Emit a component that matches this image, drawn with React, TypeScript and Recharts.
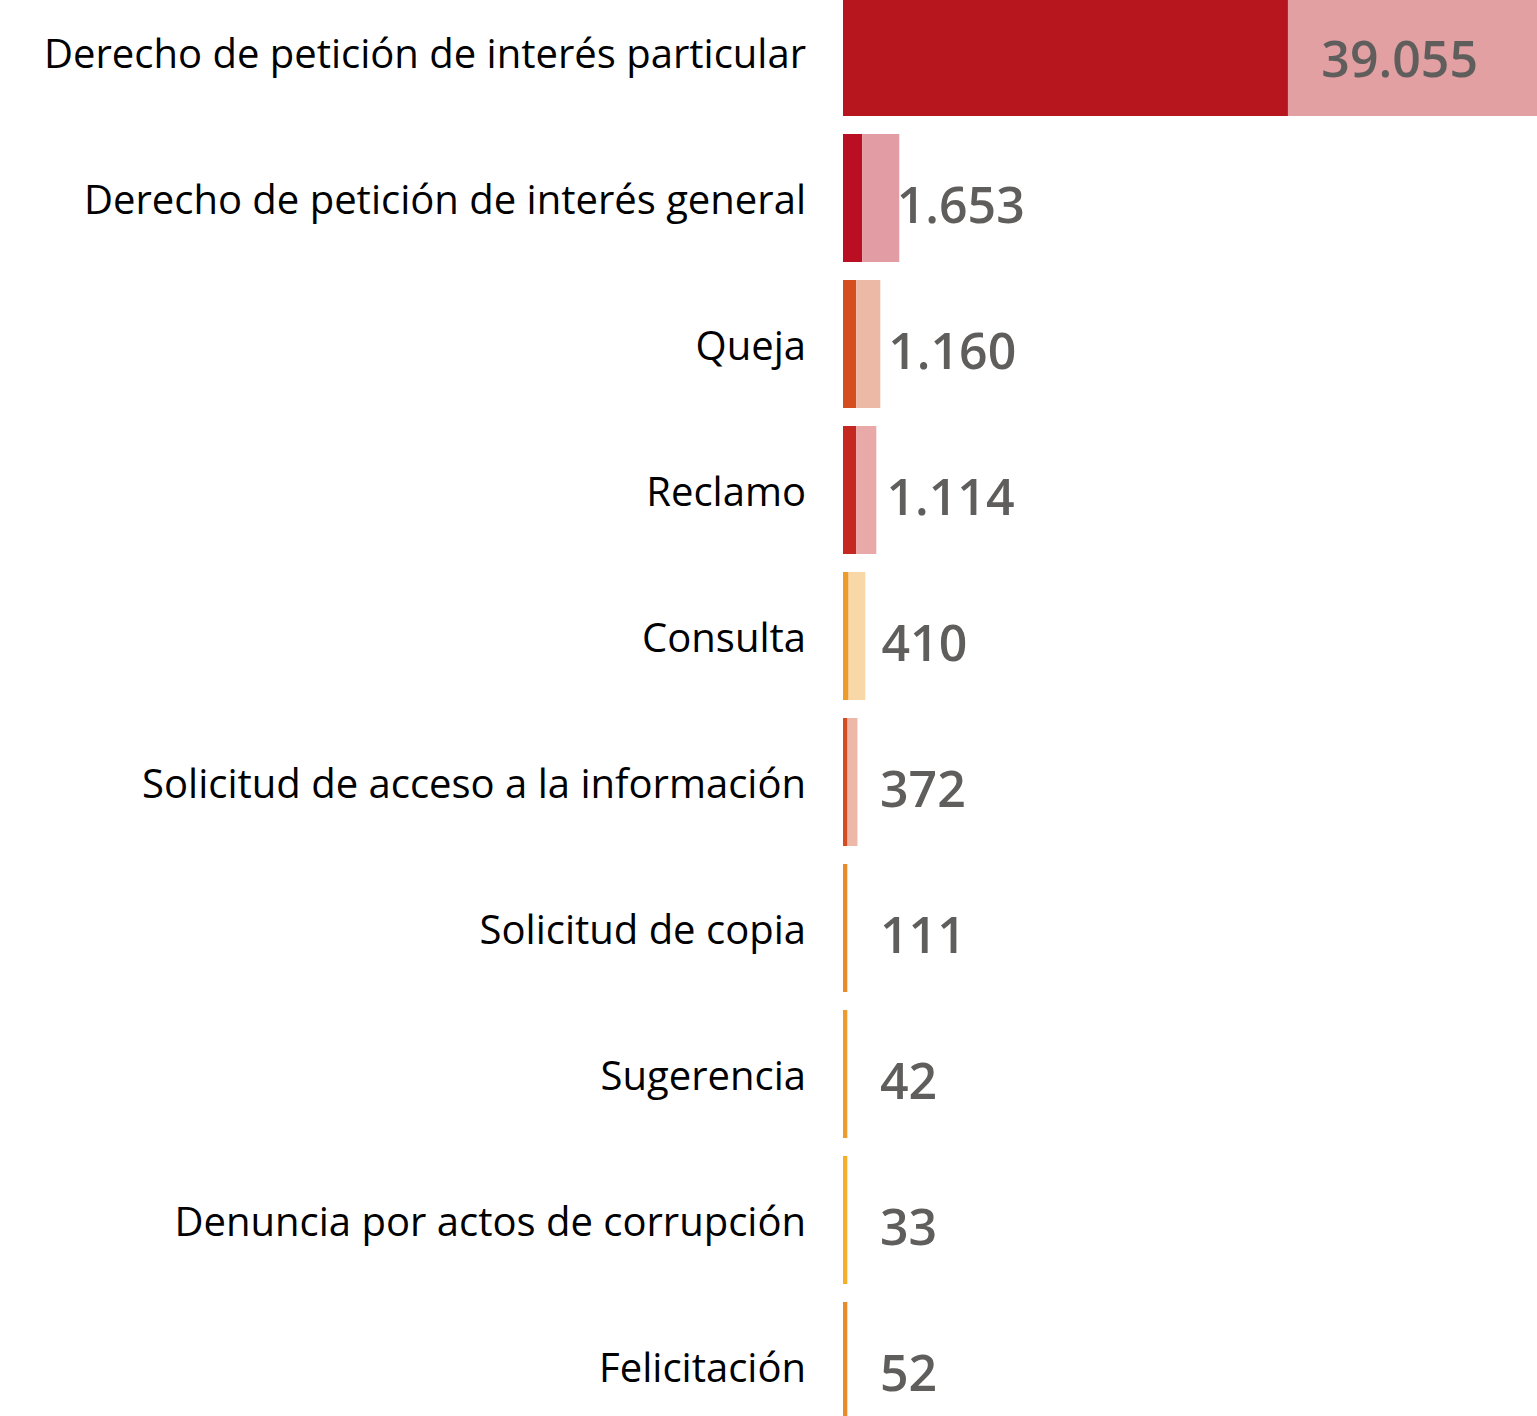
import React from 'react';
import { BarChart, Bar, XAxis, YAxis, Cell, LabelList } from 'recharts';

const categories = [
  'Derecho de petición de interés particular',
  'Derecho de petición de interés general',
  'Queja',
  'Reclamo',
  'Consulta',
  'Solicitud de acceso a la información',
  'Solicitud de copia',
  'Sugerencia',
  'Denuncia por actos de corrupción',
  'Felicitación',
];
const darkValues = [25040, 1085, 750, 750, 315, 255, 242, 242, 242, 242];
const lightValues = [14015, 2080, 1350, 1125, 940, 560, 0, 0, 0, 0];
const valueLabels = ['39.055', '1.653', '1.160', '1.114', '410', '372', '111', '42', '33', '52'];
const X_MAX = 39055;

const darkColors = ['#B8161E', '#BA0E22', '#D44E1F', '#C42821', '#EF9B2B', '#D54B22', '#E88B2B', '#EE9A2C', '#F5AF2A', '#E98B2B'];
const lightColors = ['#E2A0A3', '#E29CA4', '#EDB9A7', '#E8A9A8', '#F7D8A6', '#EDB8A8', '#E88B2B', '#EE9A2C', '#F5AF2A', '#E98B2B'];

const data = categories.map((name, i) => ({
  name,
  dark: darkValues[i],
  light: lightValues[i],
  label: valueLabels[i],
}));

const W = 1537;
const H = 1460;
const AXIS_W = 843;
const PX_PER_UNIT = (W - AXIS_W) / X_MAX;
const FONT = '"Open Sans", "Noto Sans", sans-serif';

const CategoryTick = (props: any) => {
  const { x, y, payload } = props;
  return (
    <text x={x} y={y} dy="0.4em" textAnchor="end" fill="#000" fontFamily={FONT} fontSize={40}>
      {payload.value}
    </text>
  );
};

const ValueLabel = (props: any) => {
  const { x, y, width, height, value, index } = props;
  const barEnd = x + width + lightValues[index] * PX_PER_UNIT;
  const cy = y + height / 2 + 25;
  if (barEnd > W - 200) {
    return (
      <text x={barEnd - 59} y={cy} textAnchor="end" fill="#605E5C" fontFamily={FONT} fontWeight={600} fontSize={50}>
        {value}
      </text>
    );
  }
  const lx = Math.max(AXIS_W + 37, AXIS_W + 37 + 0.45 * (barEnd - AXIS_W - 19));
  return (
    <text x={lx} y={cy} textAnchor="start" fill="#605E5C" fontFamily={FONT} fontWeight={600} fontSize={50}>
      {value}
    </text>
  );
};

export default function App() {
  return (
    <div style={{ position: 'absolute', left: 0, top: 0, width: W, height: 1416, overflow: 'hidden', background: '#fff' }}>
      <div style={{ position: 'absolute', left: 0, top: -21 }}>
        <BarChart
          width={W}
          height={H}
          data={data}
          layout="vertical"
          margin={{ top: 0, right: 0, bottom: 0, left: 0 }}
          barSize={128}
        >
          <XAxis type="number" domain={[0, X_MAX]} hide allowDataOverflow />
          <YAxis
            type="category"
            dataKey="name"
            width={AXIS_W}
            axisLine={false}
            tickLine={false}
            tickSize={0}
            tickMargin={37}
            tick={<CategoryTick />}
            interval={0}
          />
          <Bar dataKey="dark" stackId="a" isAnimationActive={false}>
            {data.map((_, i) => (
              <Cell key={i} fill={darkColors[i]} />
            ))}
            <LabelList dataKey="label" content={<ValueLabel />} />
          </Bar>
          <Bar dataKey="light" stackId="a" isAnimationActive={false}>
            {data.map((_, i) => (
              <Cell key={i} fill={lightColors[i]} />
            ))}
          </Bar>
        </BarChart>
      </div>
    </div>
  );
}
